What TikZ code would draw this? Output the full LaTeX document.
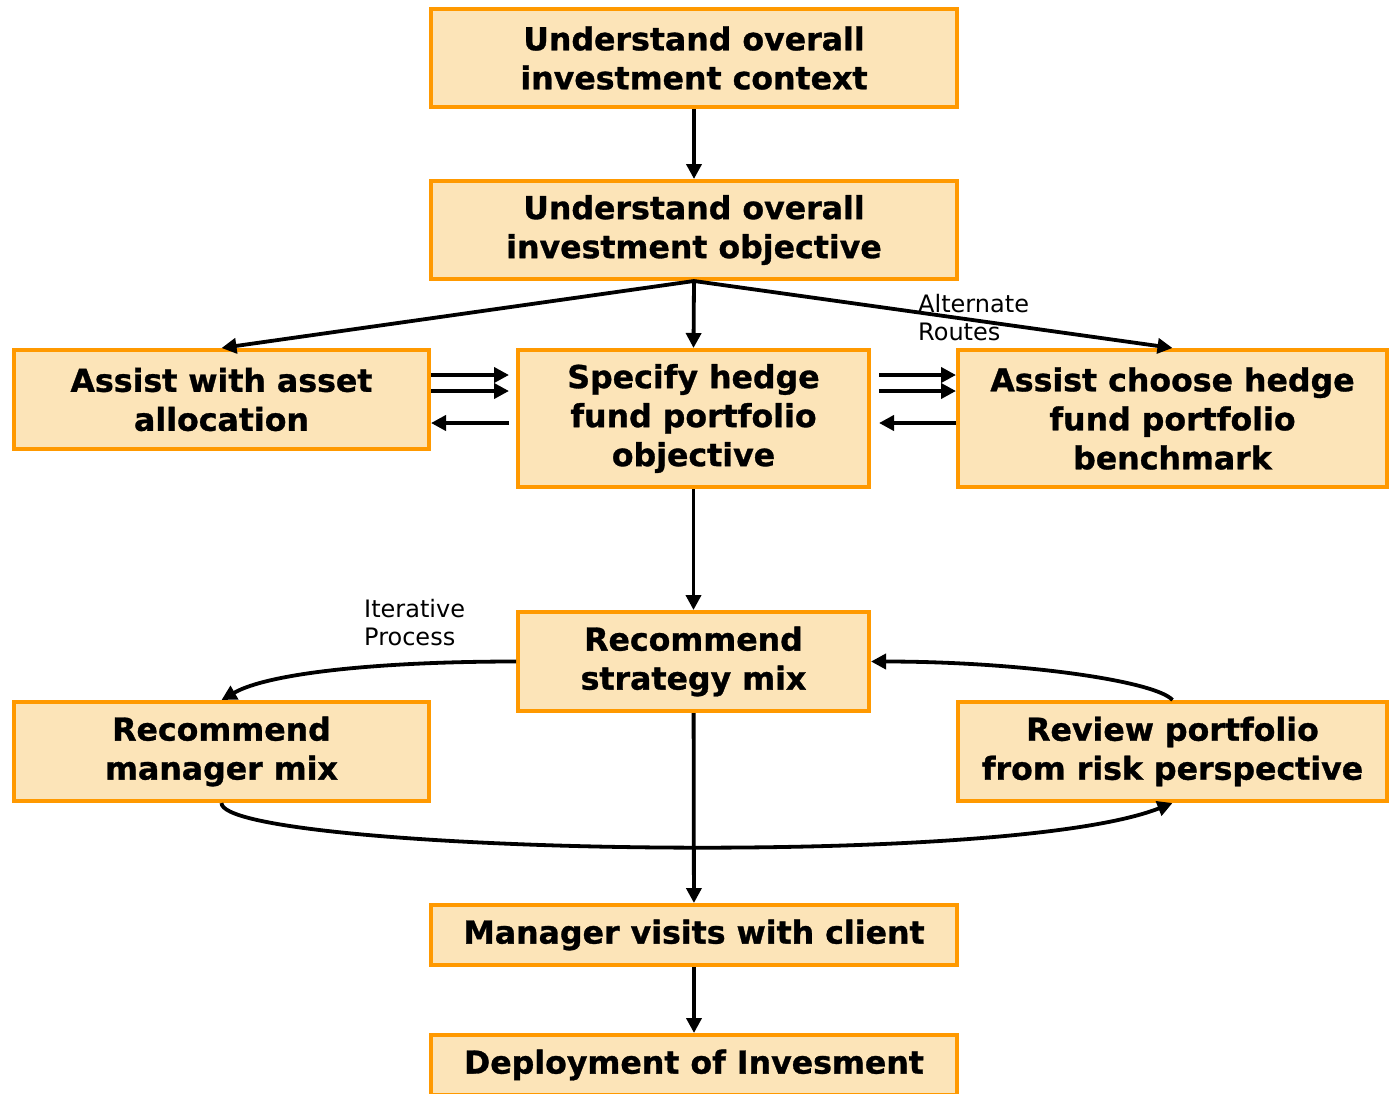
\documentclass[tikz,border=0pt]{standalone}
\usepackage{fontspec}
\setmainfont{DejaVu Sans}[BoldFeatures={FakeBold=1}]
\usetikzlibrary{arrows.meta}

\definecolor{boxline}{RGB}{255,153,0}
\definecolor{boxfill}{RGB}{252,228,184}

\tikzset{
  procbox/.style={draw=boxline, fill=boxfill, line width=4pt, inner sep=0pt, align=center,
    font=\bfseries\fontsize{31.6}{39}\selectfont},
  flow/.style={line width=3.8pt, -{Triangle[length=15pt,width=15pt]}},
  note/.style={anchor=north west, inner sep=0pt, align=left, font=\fontsize{24}{28}\selectfont}
}

\begin{document}
\begin{tikzpicture}[x=1pt,y=-1pt]
\useasboundingbox (0,0) rectangle (1389,1093);

\node[procbox, minimum width=526, minimum height=98] (context) at (694,58) {Understand overall\\investment context};
\node[procbox, minimum width=526, minimum height=98] (objective) at (694,230) {Understand overall\\investment objective};
\node[procbox, minimum width=415, minimum height=99] (assetalloc) at (221.5,399.5) {Assist with asset\\allocation};
\node[procbox, minimum width=351, minimum height=137] (hfobjective) at (693.5,418.5) {Specify hedge\\fund portfolio\\objective};
\node[procbox, minimum width=429, minimum height=137] (benchmark) at (1172.5,418.5) {Assist choose hedge\\fund portfolio\\benchmark};
\node[procbox, minimum width=351, minimum height=99] (strategymix) at (693.5,661.5) {Recommend\\strategy mix};
\node[procbox, minimum width=415, minimum height=99] (managermix) at (221.5,751.5) {Recommend\\manager mix};
\node[procbox, minimum width=429, minimum height=99] (riskreview) at (1172.5,751.5) {Review portfolio\\from risk perspective};
\node[procbox, minimum width=526, minimum height=60] (visits) at (694,935) {Manager visits with client};
\node[procbox, minimum width=526, minimum height=60] (deploy) at (694,1065) {Deployment of Invesment};

\node[note] (altroutes) at (918,294) {Alternate\\Routes};
\node[note] (iterative) at (364,599) {Iterative\\Process};

\draw[flow] (context) -- (objective);
\draw[flow] (objective.south) -- (assetalloc.north);
\draw[flow] (objective.south) -- (hfobjective.north);
\draw[flow] (objective.south) -- (benchmark.north);

\foreach \y in {375,391} {
  \draw[flow, shorten >=7pt] (assetalloc.east |- 0,\y) -- (hfobjective.west |- 0,\y);
  \draw[flow, shorten <=8pt] (hfobjective.east |- 0,\y) -- (benchmark.west |- 0,\y);
}
\draw[flow, shorten <=7pt] (hfobjective.west |- 0,423) -- (assetalloc.east |- 0,423);
\draw[flow, shorten >=8pt] (benchmark.west |- 0,423) -- (hfobjective.east |- 0,423);

\draw[flow] (hfobjective) -- (strategymix);
\draw[flow] (strategymix.west) .. controls +(-137,0) and +(47,-27) .. (managermix.north);
\draw[flow] (riskreview.north) .. controls +(-17,-19) and +(150,0) .. (strategymix.east);
\draw[flow] (managermix.south) .. controls +(0,48) and +(-172,68) .. (riskreview.south);
\draw[flow] (strategymix) -- (visits);
\draw[flow] (visits) -- (deploy);
\end{tikzpicture}
\end{document}
